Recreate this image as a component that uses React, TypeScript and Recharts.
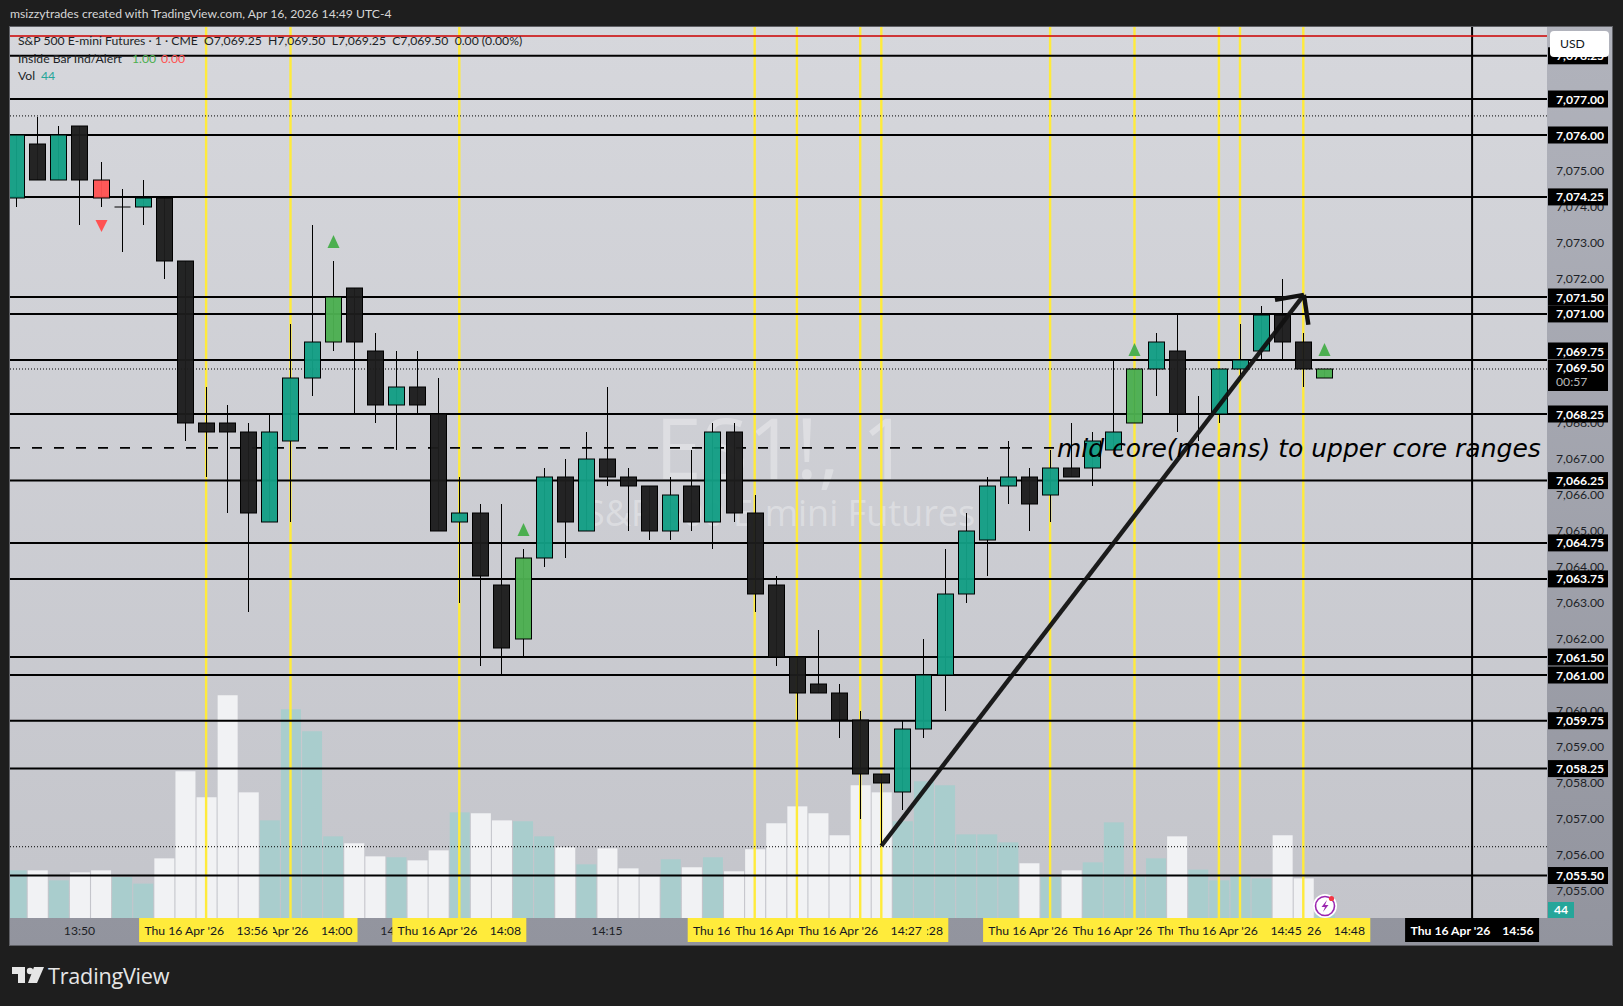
import React from 'react';
import { Bar, ComposedChart, ReferenceLine, XAxis, YAxis } from 'recharts';

const opens = [7074.25, 7075.75, 7074.75, 7076.25, 7074.75, 7074, 7074, 7074.25, 7072.5, 7068, 7068, 7067.75, 7065.25, 7067.5, 7069.25, 7070.25, 7071.75, 7070, 7068.5, 7069, 7068.25, 7065.25, 7065.5, 7063.5, 7062, 7064.25, 7066.5, 7065, 7067, 7066.5, 7066.25, 7065, 7066.25, 7065.25, 7067.75, 7065.5, 7063.5, 7061.5, 7060.75, 7060.5, 7059.75, 7058.25, 7057.75, 7059.5, 7061, 7063.25, 7064.75, 7066.25, 7066.5, 7066, 7066.75, 7066.75, 7067.25, 7068, 7069.5, 7070, 7068.25, 7068.25, 7069.5, 7070, 7071, 7070.25, 7069.25];
const highs = [7076, 7076.5, 7076.25, 7076.25, 7075.25, 7074.5, 7074.75, 7074.25, 7072.5, 7069, 7068.5, 7068, 7068.25, 7070.75, 7073.5, 7072.5, 7071.75, 7070.5, 7070, 7070, 7069.25, 7066.5, 7065.75, 7065.75, 7064.5, 7066.75, 7067, 7067.75, 7069, 7066.75, 7066.25, 7066.5, 7067.25, 7068, 7068, 7066, 7063.75, 7061.5, 7062.25, 7060.75, 7060, 7058.25, 7059.75, 7062, 7064.5, 7065.5, 7066.5, 7067.5, 7066.75, 7067.25, 7068, 7067.75, 7069.75, 7069.5, 7070.5, 7071, 7068.75, 7069.5, 7070.75, 7071.25, 7072, 7070.5, 7069.5];
const lows = [7074, 7074.75, 7074.75, 7073.5, 7074, 7072.75, 7073.5, 7072, 7067.5, 7066.5, 7065.5, 7062.75, 7065.25, 7065.25, 7068.75, 7070, 7068.25, 7068, 7067.25, 7068.25, 7065, 7063, 7061.25, 7061, 7061.5, 7064, 7064.25, 7065, 7066.25, 7065, 7064.75, 7064.75, 7065, 7064.5, 7065.25, 7062.75, 7061.25, 7059.75, 7060.5, 7059.25, 7057, 7056.25, 7057.25, 7059.25, 7060, 7063, 7063.75, 7065.75, 7065, 7065.25, 7066.5, 7066.25, 7067.25, 7068, 7068.75, 7067.75, 7067.5, 7068, 7069.25, 7069.75, 7069.75, 7069, 7069.25];
const closes = [7076, 7074.75, 7076, 7074.75, 7074.25, 7074, 7074.25, 7072.5, 7068, 7067.75, 7067.75, 7065.5, 7067.75, 7069.25, 7070.25, 7071.5, 7070.25, 7068.5, 7069, 7068.5, 7065, 7065.5, 7063.75, 7061.75, 7064.25, 7066.5, 7065.25, 7067, 7066.5, 7066.25, 7065, 7066, 7065.25, 7067.75, 7065.5, 7063.25, 7061.5, 7060.5, 7060.5, 7059.75, 7058.25, 7058, 7059.5, 7061, 7063.25, 7065, 7066.25, 7066.5, 7065.75, 7066.75, 7066.5, 7067.5, 7067.75, 7069.5, 7070.25, 7068.25, 7068.25, 7069.5, 7069.75, 7071, 7070.25, 7069.5, 7069.5];
const volumes = [262, 262, 207, 251, 262, 225, 189, 328, 807, 664, 1225, 691, 537, 1148, 1027, 449, 411, 339, 334, 317, 372, 581, 576, 537, 532, 449, 389, 295, 383, 273, 229, 323, 279, 334, 257, 378, 521, 614, 576, 455, 730, 691, 532, 752, 730, 460, 460, 416, 301, 225, 262, 306, 526, 229, 328, 449, 266, 207, 235, 218, 455, 218, 44];

const signalUp = [15, 24, 53, 62];
const signalDown = [4];

const yellowBars = [9, 13, 21, 35, 37, 40, 41, 49, 53, 57, 58, 61];
const crosshairBar = 69;

const levelPrices = [7078.2, 7077, 7076, 7074.28, 7071.5, 7071.03, 7069.75, 7068.25, 7066.4, 7064.67, 7063.67, 7061.5, 7061, 7059.73, 7058.4, 7055.43];
const levelLabels = ['7,078.25', '7,077.00', '7,076.00', '7,074.25', '7,071.50', '7,071.00', '7,069.75', '7,068.25', '7,066.25', '7,064.75', '7,063.75', '7,061.50', '7,061.00', '7,059.75', '7,058.25', '7,055.50'];
// ticks that sit fully behind a level tag in the reference are left out
const priceTicks = [7055, 7056, 7057, 7058, 7059, 7060, 7062, 7063, 7064, 7065, 7066, 7067, 7068, 7072, 7073, 7074, 7075];
const lastPrice = 7069.5;

const plainTimeBars = [3, 18, 28];
const plainTimeLabels = ['13:50', '14:05', '14:15'];
const flaggedBars = [35, 37, 41, 40, 61, 49, 53, 57, 58, 13, 9, 21];
const flaggedTimes = ['14:22', '14:24', '14:28', '14:27', '14:48', '14:36', '14:40', '14:44', '14:45', '14:00', '13:56', '14:08'];

const FONT = 'Lato, sans-serif';
const FONT_SIZE = 12.2;
const WATERMARK_FONT = '"Open Sans", sans-serif';
const W = 1623;
const H = 1006;
const PLOT_RIGHT = 1547;
const PLOT_BOTTOM = 918;

const candles = opens.map((open, i) => ({
  i,
  open,
  close: closes[i],
  range: [lows[i], highs[i]],
  volume: volumes[i],
}));

const bodyColor = (d: any) => {
  if (signalDown.includes(d.i)) return '#ff5252';
  if (signalUp.includes(d.i)) return '#4caf50';
  return d.close > d.open ? '#139e84' : '#1c1c1c';
};

const Candle = (props: any) => {
  const { x, y, width, height, payload } = props;
  const [low, high] = payload.range;
  const cx = Math.floor(x + width / 2) + 0.5;
  const perPoint = Math.abs(height) / (high - low);
  const at = (p: number) => y + (high - p) * perPoint;
  const top = at(Math.max(payload.open, payload.close));
  const bottom = at(Math.min(payload.open, payload.close));
  const fill = bodyColor(payload);
  const yTop = at(high);
  const yLow = at(low);
  return (
    <g>
      <line x1={cx} x2={cx} y1={yTop} y2={yLow} stroke="#000" strokeWidth={1} />
      {top === bottom ? (
        <line x1={cx - 8} x2={cx + 8} y1={top} y2={top} stroke="#000" strokeWidth={1} />
      ) : (
        <rect x={cx - 8} y={top} width={16} height={bottom - top} fill={fill} fillOpacity={0.96} stroke="#000" strokeWidth={1} />
      )}
      {signalUp.includes(payload.i) && (
        <polygon points={`${cx - 6},${yTop - 13} ${cx + 6},${yTop - 13} ${cx},${yTop - 26}`} fill="#4caf50" />
      )}
      {signalDown.includes(payload.i) && (
        <polygon points={`${cx - 6},${yLow + 13} ${cx + 6},${yLow + 13} ${cx},${yLow + 25}`} fill="#ff5252" />
      )}
    </g>
  );
};

const VolumeBar = (props: any) => {
  const { x, y, width, height, payload } = props;
  const up = payload.close > payload.open || payload.i === 5 || payload.i === 56;
  return <rect x={x} y={y} width={width} height={height} fill={up ? '#a9cdcd' : '#f1f2f4'} />;
};

const PriceTick = (props: any) => {
  const { y, payload } = props;
  const value = payload.value;
  const tagX = 1548;
  if (value === lastPrice) {
    return (
      <g fontFamily={FONT} fontSize={FONT_SIZE}>
        <rect x={tagX} y={360} width={60} height={31} fill="#000" />
        <text x={1556} y={372} fill="#fff" fontWeight={700}>7,069.50</text>
        <text x={1556} y={386} fill="#b8b8b8">00:57</text>
      </g>
    );
  }
  const idx = levelPrices.indexOf(value);
  if (idx >= 0) {
    const cy = levelLabels[idx] === '7,069.75' ? y - 9 : y;
    return (
      <g fontFamily={FONT} fontSize={FONT_SIZE}>
        <rect x={tagX} y={cy - 8.5} width={60} height={17} fill="#000" />
        <text x={1556} y={cy + 4.5} fill="#fff" fontWeight={700}>{levelLabels[idx]}</text>
      </g>
    );
  }
  return (
    <text x={1556} y={y + 3.5} fontFamily={FONT} fontSize={FONT_SIZE} fill="#1d1f26">
      {value.toLocaleString('en-US', { minimumFractionDigits: 2 })}
    </text>
  );
};

const TimeTick = (props: any) => {
  const { x, payload } = props;
  const value = payload.value;
  const plain = plainTimeBars.indexOf(value);
  if (plain >= 0) {
    return (
      <text x={x} y={PLOT_BOTTOM + 17} textAnchor="middle" fontFamily={FONT} fontSize={FONT_SIZE} fill="#1d1f26">
        {plainTimeLabels[plain]}
      </text>
    );
  }
  const isCross = value === crosshairBar;
  const flagged = flaggedBars.indexOf(value);
  const time = isCross ? '14:56' : flaggedTimes[flagged];
  return (
    <g fontFamily={FONT} fontSize={FONT_SIZE}>
      <rect x={x - 67} y={PLOT_BOTTOM} width={134} height={24} fill={isCross ? '#000' : '#ffeb3b'} />
      <text x={x} y={PLOT_BOTTOM + 17} textAnchor="middle" style={{ whiteSpace: 'pre' }} fill={isCross ? '#fff' : '#131722'} fontWeight={isCross ? 700 : 400}>
        {`Thu 16 Apr '26    ${time}`}
      </text>
    </g>
  );
};

const abs = (left: number, top: number, extra: any = {}): any => ({ position: 'absolute', left, top, whiteSpace: 'pre', ...extra });

export default function App() {
  return (
    <div style={{ position: 'absolute', left: 0, top: 0, width: W, height: H, background: '#1e1e1e', overflow: 'hidden', fontFamily: FONT }}>
      <div style={abs(10, 6, { color: '#d6d6d6', fontSize: FONT_SIZE })}>msizzytrades created with TradingView.com, Apr 16, 2026 14:49 UTC-4</div>

      <div style={abs(9, 26, { width: 1604, height: 920, boxSizing: 'border-box', border: '1px solid #5f6065', background: 'linear-gradient(#b1b3bc, #92949e)' })} />
      <div style={abs(10, 27, { width: PLOT_RIGHT - 10, height: PLOT_BOTTOM - 27, background: 'linear-gradient(#d6d7dc, #c4c5cb)' })} />

      <div style={abs(655, 397, { color: 'rgba(255,255,255,0.32)', fontFamily: WATERMARK_FONT, fontSize: 84, lineHeight: '100px' })}>ES1!, 1</div>
      <div style={abs(585, 488, { color: 'rgba(255,255,255,0.32)', fontFamily: WATERMARK_FONT, fontSize: 36, lineHeight: '50px' })}>S&amp;P 500 E-mini Futures</div>

      <ComposedChart
        width={W}
        height={H}
        data={candles}
        margin={{ top: 27, left: 10, right: 11, bottom: 61 }}
        style={{ position: 'absolute', left: 0, top: 0 }}
      >
        <XAxis
          xAxisId="time"
          dataKey="i"
          type="number"
          domain={[-0.294, 72.55]}
          allowDataOverflow
          ticks={[...plainTimeBars, ...flaggedBars, crosshairBar]}
          interval={0}
          height={27}
          axisLine={false}
          tickLine={false}
          tick={<TimeTick />}
        />
        <XAxis xAxisId="vol" dataKey="i" type="number" domain={[-0.294, 72.55]} allowDataOverflow hide height={0} />
        <YAxis
          yAxisId="price"
          orientation="right"
          type="number"
          domain={[7054.25, 7079]}
          allowDataOverflow
          ticks={[...priceTicks, ...levelPrices, lastPrice]}
          interval={0}
          width={65}
          axisLine={false}
          tickLine={false}
          tick={<PriceTick />}
        />
        <YAxis yAxisId="volume" orientation="left" type="number" domain={[0, 4900]} allowDataOverflow hide width={0} />

        <Bar xAxisId="vol" yAxisId="volume" dataKey="volume" barSize={20} isAnimationActive={false} shape={<VolumeBar />} zIndex={50} />

        {yellowBars.map((b) => (
          <ReferenceLine key={b} xAxisId="time" yAxisId="price" x={b} stroke="#ffeb3b" strokeWidth={2.4} zIndex={100} />
        ))}
        <ReferenceLine xAxisId="time" yAxisId="price" x={crosshairBar} stroke="#000" strokeWidth={2} zIndex={110} />
        <ReferenceLine xAxisId="time" yAxisId="price" y={7078.75} stroke="#cc0000" strokeWidth={1.7} zIndex={110} />
        <ReferenceLine xAxisId="time" yAxisId="price" y={7076.53} stroke="#000" strokeWidth={1} strokeDasharray="1 2" zIndex={110} />
        <ReferenceLine xAxisId="time" yAxisId="price" y={lastPrice} stroke="#000" strokeWidth={1} strokeDasharray="1 2" zIndex={110} />
        <ReferenceLine xAxisId="time" yAxisId="price" y={7056.23} stroke="#000" strokeWidth={1} strokeDasharray="1 2" zIndex={110} />
        <ReferenceLine
          xAxisId="time"
          yAxisId="price"
          segment={[{ x: -0.294, y: 7067.31 }, { x: 49.6, y: 7067.31 }]}
          stroke="#000"
          strokeWidth={1.7}
          strokeDasharray="10 12"
          zIndex={110}
        />
        {levelPrices.map((p) => (
          <ReferenceLine key={p} xAxisId="time" yAxisId="price" y={p} stroke="#000" strokeWidth={2} zIndex={120} />
        ))}

        <Bar xAxisId="time" yAxisId="price" dataKey="range" barSize={16} isAnimationActive={false} shape={<Candle />} zIndex={300} />

        <ReferenceLine xAxisId="time" yAxisId="price" segment={[{ x: 41, y: 7056.25 }, { x: 61.03, y: 7071.56 }]} stroke="#111" strokeOpacity={0.95} strokeWidth={4.4} zIndex={700} />
        <ReferenceLine xAxisId="time" yAxisId="price" segment={[{ x: 59.66, y: 7071.42 }, { x: 61.03, y: 7071.56 }]} stroke="#111" strokeWidth={4.4} zIndex={700} />
        <ReferenceLine xAxisId="time" yAxisId="price" segment={[{ x: 61.03, y: 7071.56 }, { x: 61.24, y: 7070.73 }]} stroke="#111" strokeWidth={4.4} zIndex={700} />
      </ComposedChart>

      <div style={abs(18, 32, { color: '#1d1f26', fontSize: FONT_SIZE, lineHeight: '18px' })}>{'S&P 500 E-mini Futures · 1 · CME  O7,069.25  H7,069.50  L7,069.25  C7,069.50  0.00 (0.00%)'}</div>
      <div style={abs(18, 50, { color: '#1d1f26', fontSize: FONT_SIZE, lineHeight: '18px' })}>Inside Bar Ind/Alert</div>
      <div style={abs(132, 50, { color: '#4caf50', fontSize: FONT_SIZE, lineHeight: '18px' })}>1.00</div>
      <div style={abs(161, 50, { color: '#ff5252', fontSize: FONT_SIZE, lineHeight: '18px' })}>0.00</div>
      <div style={abs(18, 67, { color: '#1d1f26', fontSize: FONT_SIZE, lineHeight: '18px' })}>Vol</div>
      <div style={abs(41, 67, { color: '#26a69a', fontSize: FONT_SIZE, lineHeight: '18px' })}>44</div>

      <div style={abs(1057, 431, { color: '#000', fontFamily: '"DejaVu Sans", sans-serif', fontStyle: 'italic', fontSize: 25, lineHeight: '36px' })}>mid core(means) to upper core ranges</div>

      <div style={abs(1550, 31, { width: 59, height: 26, borderRadius: 4, background: '#fff', color: '#131722', fontSize: FONT_SIZE, lineHeight: '26px', textIndent: 10 })}>USD</div>
      <div style={abs(1548, 902, { width: 26, height: 16, background: '#26a69a', color: '#fff', fontSize: FONT_SIZE, fontWeight: 700, lineHeight: '16px', textAlign: 'center' })}>44</div>

      <svg width={26} height={26} style={abs(1312, 893)}>
        <circle cx={13} cy={13} r={12} fill="#fff" />
        <circle cx={13} cy={13} r={9.5} fill="#fff" stroke="#9c27b0" strokeWidth={1.6} />
        <path d="M15 7 L9.5 14 L13 14 L11 19 L16.5 12 L13 12 Z" fill="#9c27b0" />
        <circle cx={19.5} cy={5.5} r={2.6} fill="#f23645" />
      </svg>

      <svg width={32} height={18} style={abs(12, 966)}>
        <path d="M0 1 H13 V17 H6 V8 H0 Z" fill="#e6e6e6" />
        <circle cx={18} cy={5} r={3.2} fill="#e6e6e6" />
        <path d="M22 1 H32 L25 17 H16 Z" fill="#e6e6e6" />
      </svg>
      <div style={abs(48, 961, { color: '#e6e6e6', fontFamily: WATERMARK_FONT, fontSize: 21.6, fontWeight: 500, lineHeight: '30px', letterSpacing: -0.2 })}>TradingView</div>
    </div>
  );
}
